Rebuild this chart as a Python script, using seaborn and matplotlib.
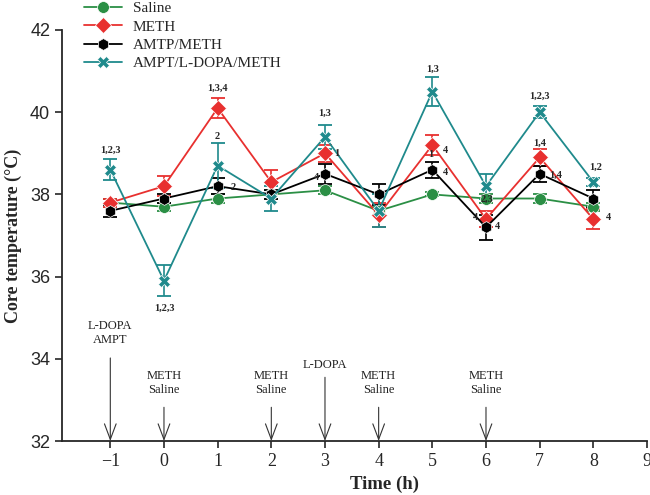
import matplotlib
matplotlib.use('Agg')
import matplotlib.pyplot as plt
import seaborn as sns
import pandas as pd

# Dati (nolasīti no attēla)
time = [-1, 0, 1, 2, 3, 4, 5, 6, 7, 8]
groups = ['Saline', 'METH', 'AMTP/METH', 'AMPT/L-DOPA/METH']

saline = [37.8, 37.7, 37.9, 38.0, 38.1, 37.6, 38.0, 37.9, 37.9, 37.7]
saline_se = [0.1, 0.1, 0.1, 0.1, 0.1, 0.1, 0.05, 0.1, 0.1, 0.1]
meth = [37.8, 38.2, 40.1, 38.3, 39.0, 37.5, 39.2, 37.4, 38.9, 37.4]
meth_se = [0.1, 0.25, 0.25, 0.3, 0.2, 0.3, 0.25, 0.2, 0.2, 0.25]
amtp = [37.6, 37.9, 38.2, 38.0, 38.5, 38.0, 38.6, 37.2, 38.5, 37.9]
amtp_se = [0.15, 0.1, 0.2, 0.1, 0.25, 0.25, 0.2, 0.3, 0.2, 0.2]
ampt = [38.6, 35.9, 38.7, 37.9, 39.4, 37.6, 40.5, 38.2, 40.0, 38.3]
ampt_se = [0.25, 0.38, 0.55, 0.3, 0.3, 0.4, 0.35, 0.3, 0.15, 0.1]

# Nozīmības atzīmes: (teksts, x, y)
sig_labels = [
    ('1,2,3', -1, 39.08), ('1,2,3', 0, 35.23), ('1,3,4', 1, 40.59),
    ('2', 1, 39.4), ('2', 1.29, 38.18), ('4', 2.84, 38.42), ('1', 3.22, 39.0),
    ('1,3', 3, 39.98), ('1,3', 5, 41.05), ('1', 4.98, 38.98), ('4', 5.24, 39.06),
    ('4', 5.25, 38.53), ('2,3', 6.02, 37.88), ('4', 5.8, 37.45), ('4', 6.21, 37.21),
    ('1,2,3', 7, 40.38), ('1,4', 7, 39.24), ('1,4', 7.3, 38.47), ('1,2', 8.05, 38.66),
    ('4', 8.28, 37.45),
]

# Injekciju bultas: (x, teksts, teksta y, bultas sākums)
injections = [
    (-1, 'L-DOPA\nAMPT', 34.63, 34.02),
    (0, 'METH\nSaline', 33.42, 32.82),
    (2, 'METH\nSaline', 33.42, 32.82),
    (3, 'L-DOPA', 33.84, 33.55),
    (4, 'METH\nSaline', 33.42, 32.82),
    (6, 'METH\nSaline', 33.42, 32.82),
]

values = [saline, meth, amtp, ampt]
errors = [saline_se, meth_se, amtp_se, ampt_se]
df = pd.DataFrame({
    'Time': time * len(groups),
    'Temp': [v for vals in values for v in vals],
    'Group': [g for g in groups for _ in time],
})

colors = {'Saline': '#2b8f45', 'METH': '#e8302f', 'AMTP/METH': '#000000',
          'AMPT/L-DOPA/METH': '#1f8a8c'}
markers = {'Saline': 'o', 'METH': 'D', 'AMTP/METH': 'h', 'AMPT/L-DOPA/METH': 'X'}

sns.set_style('ticks')
plt.rcParams['font.family'] = ['Liberation Serif', 'DejaVu Serif']

fig = plt.figure(figsize=(6.5, 4.95), dpi=100)
ax = fig.add_axes([62 / 650, 1 - 441 / 495, 585 / 650, 411 / 495])

for g, se, z in zip(groups, errors, [2, 3, 4, 5]):
    sub = df[df['Group'] == g]
    ax.errorbar(sub['Time'], sub['Temp'], yerr=se, fmt='none', ecolor=colors[g],
                elinewidth=1.2, capsize=5, capthick=1.3, zorder=z)

sns.lineplot(data=df, x='Time', y='Temp', hue='Group', style='Group',
             palette=colors, markers=markers, dashes=False, markersize=8.5,
             markeredgewidth=0.5, linewidth=1.3, ax=ax, legend='full', zorder=6)

handles, labels = ax.get_legend_handles_labels()
ax.legend(handles, labels, loc='upper left', bbox_to_anchor=(76 / 650, 1.012),
          bbox_transform=fig.transFigure, frameon=False, fontsize=11,
          handlelength=2.5, handletextpad=0.7, labelspacing=0.3, borderpad=0.0)

for txt, x, y in sig_labels:
    ax.text(x, y, txt, ha='center', va='center', fontsize=7.5, fontweight='bold', zorder=8)

for x, txt, ty, top in injections:
    ax.annotate('', xy=(x, 32), xytext=(x, top),
                arrowprops=dict(arrowstyle='->, head_length=0.8, head_width=0.3',
                                lw=0.8, color='#333333', mutation_scale=14,
                                shrinkA=0, shrinkB=0), annotation_clip=False)
    ax.text(x, ty, txt, ha='center', va='center', fontsize=9, color='#222222',
            linespacing=1.2)

ax.set_xlim(-1.9, 9)
ax.set_ylim(32, 42)
ax.set_xticks(range(-1, 10))
ax.set_xticklabels(['\u22121'] + [str(i) for i in range(0, 10)], fontsize=13)
ax.set_yticks(range(32, 43, 2))
ax.set_yticklabels([str(i) for i in range(32, 43, 2)], fontsize=13,
                   family='Liberation Sans')
ax.tick_params(direction='out', length=5, width=1.2)
for s in ['left', 'bottom']:
    ax.spines[s].set_linewidth(1.3)
sns.despine(ax=ax)

ax.set_xlabel('Time (h)', fontsize=13.5, fontweight='bold')
ax.xaxis.set_label_coords(0.552, -0.085)
ax.set_ylabel('Core temperature (\u00b0C)', fontsize=13, fontweight='bold')
ax.yaxis.set_label_coords(-0.068, 0.5)

fig.savefig('out.png', dpi=100)
